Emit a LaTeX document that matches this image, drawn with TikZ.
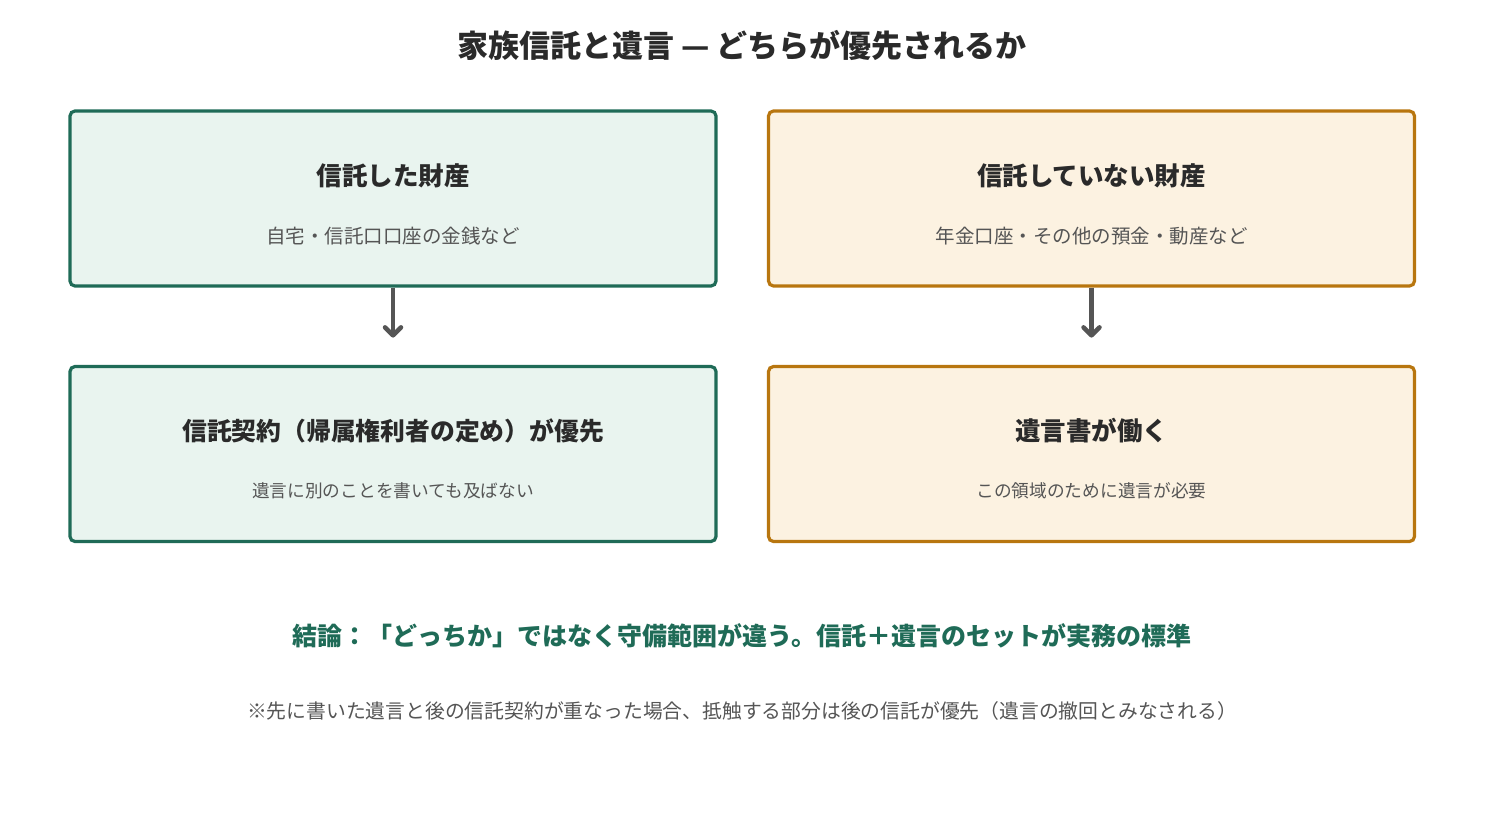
\documentclass[tikz,border=0pt]{standalone}
\usepackage{fontspec}
\setmainfont{Noto Sans CJK JP}
\usetikzlibrary{arrows.meta}
\definecolor{gs}{HTML}{1F6B57}\definecolor{gf}{HTML}{E9F4EF}
\definecolor{os}{HTML}{B8760F}\definecolor{of}{HTML}{FCF2E1}
\definecolor{tx}{HTML}{2A2A2A}\definecolor{sub}{HTML}{555555}
\begin{document}
\begin{tikzpicture}[x=1pt,y=-1pt,
 box/.style={draw,line width=3.2pt,rounded corners=5pt,minimum width=646pt,minimum height=175pt},
 gbox/.style={box,draw=gs,fill=gf},obox/.style={box,draw=os,fill=of},
 ttl/.style={font=\fontsize{25.5}{30}\selectfont\bfseries,text=tx},
 st/.style={font=\fontsize{19.5}{23}\selectfont,text=sub},
 arr/.style={draw=sub,line width=4.5pt,-{Straight Barb[length=8pt,width=16pt,line cap=round,line join=round]}}]
\useasboundingbox (0,0) rectangle (1485,824);
\node[font=\fontsize{31}{36}\selectfont\bfseries,text=tx] (title) at (742,45) {家族信託と遺言 — どちらが優先されるか};
\node[gbox] (a) at (393,198.5) {};
\node[obox] (b) at (1091.5,198.5) {};
\node[gbox] (c) at (393,454) {};
\node[obox] (d) at (1091.5,454) {};
\node[ttl] (at) at (393,176) {信託した財産};
\node[st] (as) at (393,236) {自宅・信託口口座の金銭など};
\node[ttl] (bt) at (1091.5,176) {信託していない財産};
\node[st] (bs) at (1091.5,236) {年金口座・その他の預金・動産など};
\node[ttl,font=\fontsize{24.8}{29}\selectfont\bfseries] (ct) at (393,431) {信託契約（帰属権利者の定め）が優先};
\node[st,font=\fontsize{17.7}{21}\selectfont] (cs) at (393,491) {遺言に別のことを書いても及ばない};
\node[ttl] (dt) at (1091.5,431) {遺言書が働く};
\node[st,font=\fontsize{17.7}{21}\selectfont] (ds) at (1091.5,491) {この領域のために遺言が必要};
\draw[arr] (a.south) -- ++(0,50);
\draw[arr] (b.south) -- ++(0,50);
\node[font=\fontsize{25}{29}\selectfont\bfseries,text=gs] (con) at (742,636) {結論：「どっちか」ではなく守備範囲が違う。信託＋遺言のセットが実務の標準};
\node[st,font=\fontsize{19.8}{23}\selectfont] (note) at (742,711) {※先に書いた遺言と後の信託契約が重なった場合、抵触する部分は後の信託が優先（遺言の撤回とみなされる）};
\end{tikzpicture}
\end{document}
